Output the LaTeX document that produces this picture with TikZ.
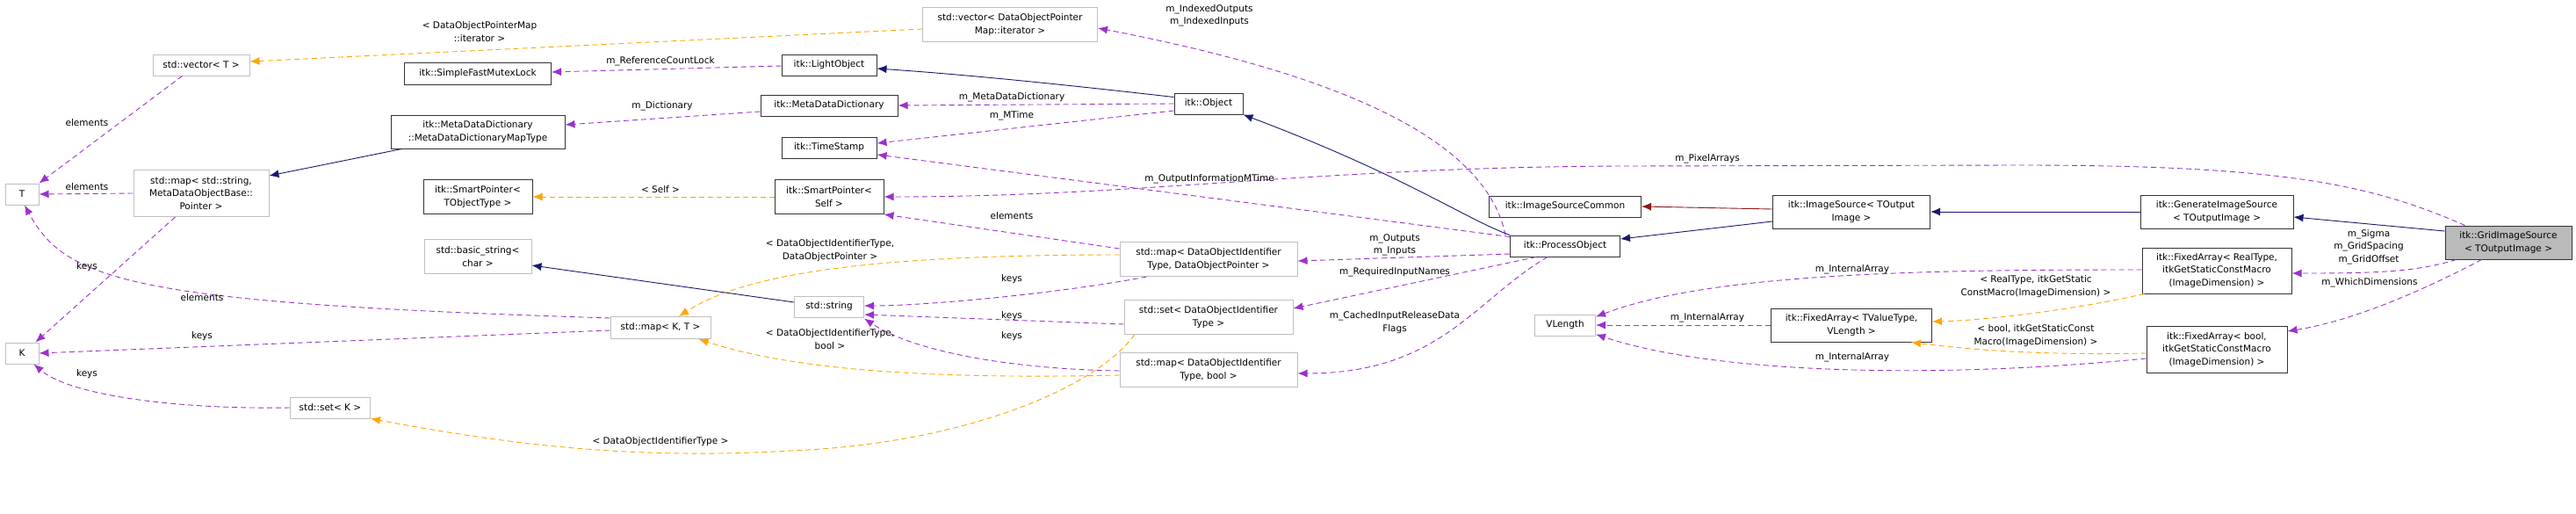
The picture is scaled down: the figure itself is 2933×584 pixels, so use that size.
\documentclass[tikz,border=0pt]{standalone}
\usepackage{fontspec}
\setmainfont{DejaVu Sans}
\usetikzlibrary{arrows.meta,calc}
\definecolor{purp}{HTML}{9A32CD}
\definecolor{orng}{HTML}{FFA500}
\definecolor{navy}{HTML}{191970}
\definecolor{dred}{HTML}{8B1A1A}
\begin{document}
\begin{tikzpicture}[x=1pt,y=-1pt,
  every node/.style={font=\fontsize{10.5}{14.3}\selectfont, align=center, inner sep=0pt},
  box/.style={draw, line width=1pt, fill=white, minimum width=#1},
  nb/.style={box=#1, draw=black!80},
  ng/.style={box=#1, draw=black!25},
  lbl/.style={fill=none},
  tip/.style={-{Latex[length=11pt,width=9pt]}},
  mem/.style={tip, draw=purp, line width=0.9pt, dash pattern=on 6pt off 4pt},
  tpl/.style={tip, draw=orng, line width=0.9pt, dash pattern=on 6pt off 4pt},
  inh/.style={tip, draw=navy, line width=0.9pt},
  inp/.style={tip, draw=dred, line width=0.9pt}]
\useasboundingbox (0,0) rectangle (2933,584);
% nodes
\node[ng=110, minimum height=24] (vT) at (229,74) {std::vector< T >};
\node[ng=38, minimum height=24] (T) at (25,221) {T};
\node[ng=154, minimum height=53] (mS) at (229,220) {std::map< std::string,\\ MetaDataObjectBase::\\ Pointer >};
\node[ng=38, minimum height=24] (K) at (25,402) {K};
\node[ng=91, minimum height=24] (sK) at (376,464) {std::set< K >};
\node[nb=167, minimum height=25] (SFL) at (544,84) {itk::SimpleFastMutexLock};
\node[nb=198, minimum height=38] (MDM) at (544,150) {itk::MetaDataDictionary\\ ::MetaDataDictionaryMapType};
\node[nb=124, minimum height=39] (SPT) at (544,224) {itk::SmartPointer<\\ TObjectType >};
\node[ng=122, minimum height=39] (bs) at (544,292) {std::basic\_string<\\ char >};
\node[ng=114, minimum height=25] (mKT) at (752,373) {std::map< K, T >};
\node[nb=108, minimum height=24] (LO) at (944,74) {itk::LightObject};
\node[nb=156, minimum height=24] (MD) at (944,120) {itk::MetaDataDictionary};
\node[nb=108, minimum height=24] (TS) at (944,168) {itk::TimeStamp};
\node[nb=124, minimum height=39] (SPS) at (944,224) {itk::SmartPointer<\\ Self >};
\node[ng=79, minimum height=24] (str) at (944,349) {std::string};
\node[ng=199, minimum height=39] (vD) at (1150,28) {std::vector< DataObjectPointer\\ Map::iterator >};
\node[nb=78, minimum height=24] (O) at (1376,118) {itk::Object};
\node[ng=202, minimum height=39] (mDP) at (1376,295) {std::map< DataObjectIdentifier\\ Type, DataObjectPointer >};
\node[ng=192, minimum height=39] (sD) at (1376,361) {std::set< DataObjectIdentifier\\ Type >};
\node[ng=202, minimum height=39] (mDB) at (1376,421) {std::map< DataObjectIdentifier\\ Type, bool >};
\node[nb=173, minimum height=24] (ISC) at (1782,235) {itk::ImageSourceCommon};
\node[nb=125, minimum height=24] (PO) at (1782,280) {itk::ProcessObject};
\node[ng=69, minimum height=24] (VL) at (1782,370) {VLength};
\node[nb=179, minimum height=38] (IS) at (2108,241) {itk::ImageSource< TOutput\\ Image >};
\node[nb=183, minimum height=38] (FTV) at (2108,370) {itk::FixedArray< TValueType,\\ VLength >};
\node[nb=174, minimum height=38] (GIS) at (2524,241) {itk::GenerateImageSource\\ < TOutputImage >};
\node[nb=170, minimum height=52] (FR) at (2524,308) {itk::FixedArray< RealType,\\ itkGetStaticConstMacro\\ (ImageDimension) >};
\node[nb=160, minimum height=53] (FB) at (2524,398) {itk::FixedArray< bool,\\ itkGetStaticConstMacro\\ (ImageDimension) >};
\node[nb=144, minimum height=38, fill=black!27] (G) at (2856,276) {itk::GridImageSource\\ < TOutputImage >};
\coordinate (pa1) at (2300,188);
\coordinate (pa2) at (1850,189);
\coordinate (dt) at (900,513);
% edges
\draw[mem] ($(vT.south west)+(34,0)$) -- (T.north east);
\draw[mem] (mS.west) -- (T.east);
\draw[mem] ($(mS.south west)+(48,0)$) -- ($(K.north east)+(-4,0)$);
\draw[mem] ($(mKT.west)+(0,-11)$) .. controls (150,345) and (75,320) .. ($(T.south)+(3,0)$);
\draw[mem] ($(mKT.west)+(0,3)$) -- (K.east);
\draw[mem] (sK.west) .. controls (200,466) and (80,450) .. ($(K.south east)+(-6,0)$);
\draw[inh] ($(MDM.south west)+(13,0)$) -- ($(mS.north east)+(0,7)$);
\draw[tpl] ($(vD.west)+(0,5)$) -- ($(vT.east)+(0,-4)$);
\draw[mem] ($(LO.west)+(0,1)$) -- ($(SFL.east)+(0,-2)$);
\draw[mem] ($(MD.west)+(0,7)$) -- ($(MDM.east)+(0,-8)$);
\draw[tpl] (SPS.west) -- (SPT.east);
\draw[inh] ($(str.west)+(0,-5)$) -- ($(bs.east)+(0,10)$);
\draw[tpl] ($(mDP.west)+(0,-5)$) .. controls (1000,290) and (850,310) .. ($(mKT.north)+(21,0)$);
\draw[tpl] ($(mDB.west)+(0,6)$) .. controls (1050,432) and (900,420) .. ($(mKT.south east)+(-14,0)$);
\draw[tpl] ($(sD.south west)+(12,0)$) .. controls (1250,440) and (1100,505) .. (dt) .. controls (700,525) and (550,500) .. (sK.south east);
\draw[inh] ($(O.north west)+(0,5)$) .. controls (1200,95) and (1100,85) .. ($(LO.east)+(0,4)$);
\draw[mem] (O.west) -- (MD.east);
\draw[mem] ($(O.west)+(0,8)$) -- ($(TS.east)+(0,-5)$);
\draw[mem] ($(PO.north west)+(0,2)$) -- ($(TS.east)+(0,8)$);
\draw[mem] ($(mDP.north west)+(0,8)$) -- (SPS.south east);
\draw[mem] ($(mDP.south west)+(31,0)$) .. controls (1200,335) and (1050,348) .. ($(str.east)+(0,-1)$);
\draw[mem] ($(sD.west)+(0,8)$) -- ($(str.east)+(0,9)$);
\draw[mem] ($(mDB.west)+(0,1)$) .. controls (1150,420) and (1040,400) .. ($(str.south east)+(0,1)$);
\draw[mem] ($(PO.west)+(0,9)$) -- ($(mDP.east)+(0,2)$);
\draw[mem] ($(PO.south west)+(30,0)$) -- ($(sD.east)+(0,-10)$);
\draw[mem] ($(PO.south west)+(43,0)$) .. controls (1680,340) and (1640,425) .. ($(mDB.east)+(0,4)$);
\draw[mem] ($(PO.north west)+(-5,0)$) .. controls (1690,150) and (1500,80) .. ($(vD.east)+(0,4)$);
\draw[inh] (PO.north west) .. controls (1670,250) and (1600,200) .. (O.south east);
\draw[mem] ($(G.north west)+(23,0)$) .. controls (2700,210) and (2600,188) .. (pa1) -- (pa2) .. controls (1500,190) and (1300,224) .. (SPS.east);
\draw[inp] ($(IS.west)+(0,-3)$) -- (ISC.east);
\draw[inh] ($(IS.west)+(0,11)$) -- ($(PO.east)+(0,-8)$);
\draw[inh] (GIS.west) -- (IS.east);
\draw[inh] ($(G.west)+(0,-13)$) -- ($(GIS.east)+(0,6)$);
\draw[mem] ($(G.south west)+(13,0)$) .. controls (2750,310) and (2700,311) .. ($(FR.east)+(0,3)$);
\draw[mem] ($(G.south west)+(42,0)$) .. controls (2760,330) and (2680,365) .. ($(FB.north east)+(0,6)$);
\draw[mem] ($(FR.west)+(0,-1)$) .. controls (2200,307) and (1950,310) .. ($(VL.north east)+(0,3)$);
\draw[mem] (FTV.west) -- (VL.east);
\draw[mem] ($(FB.west)+(0,10)$) .. controls (2200,432) and (1950,425) .. ($(VL.south east)+(0,-2)$);
\draw[tpl] ($(FR.south west)+(3,0)$) .. controls (2350,355) and (2250,365) .. ($(FTV.east)+(0,-4)$);
\draw[tpl] ($(FB.west)+(0,4)$) .. controls (2300,405) and (2220,395) .. ($(FTV.south east)+(-24,0)$);
% labels
\node[lbl] (l1) at (99,140) {elements};
\node[lbl] (l2) at (99,213) {elements};
\node[lbl] (l3) at (99,304) {keys};
\node[lbl] (l4) at (230,339) {elements};
\node[lbl] (l5) at (230,383) {keys};
\node[lbl] (l6) at (99,426) {keys};
\node[lbl] (l7) at (546,36) {< DataObjectPointerMap\\ ::iterator >};
\node[lbl] (l8) at (752,70) {m\_ReferenceCountLock};
\node[lbl] (l9) at (754,121) {m\_Dictionary};
\node[lbl] (l10) at (752,216) {< Self >};
\node[lbl] (l11) at (945,285) {< DataObjectIdentifierType,\\ DataObjectPointer >};
\node[lbl] (l12) at (945,386) {< DataObjectIdentifierType,\\ bool >};
\node[lbl] (l13) at (752,503) {< DataObjectIdentifierType >};
\node[lbl] (l14) at (1377,18) {m\_IndexedOutputs\\ m\_IndexedInputs};
\node[lbl] (l15) at (1152,111) {m\_MetaDataDictionary};
\node[lbl] (l16) at (1152,132) {m\_MTime};
\node[lbl] (l17) at (1377,204) {m\_OutputInformationMTime};
\node[lbl] (l18) at (1152,246) {elements};
\node[lbl] (l19) at (1152,318) {keys};
\node[lbl] (l20) at (1152,360) {keys};
\node[lbl] (l21) at (1152,383) {keys};
\node[lbl] (l22) at (1588,279) {m\_Outputs\\ m\_Inputs};
\node[lbl] (l23) at (1588,310) {m\_RequiredInputNames};
\node[lbl] (l24) at (1588,367) {m\_CachedInputReleaseData\\ Flags};
\node[lbl] (l25) at (1944,181) {m\_PixelArrays};
\node[lbl] (l26) at (1944,362) {m\_InternalArray};
\node[lbl] (l27) at (2109,307) {m\_InternalArray};
\node[lbl] (l28) at (2109,407) {m\_InternalArray};
\node[lbl] (l29) at (2318,326) {< RealType, itkGetStatic\\ ConstMacro(ImageDimension) >};
\node[lbl] (l30) at (2318,382) {< bool, itkGetStaticConst\\ Macro(ImageDimension) >};
\node[lbl] (l31) at (2697,281) {m\_Sigma\\ m\_GridSpacing\\ m\_GridOffset};
\node[lbl] (l32) at (2698,322) {m\_WhichDimensions};
\end{tikzpicture}
\end{document}
